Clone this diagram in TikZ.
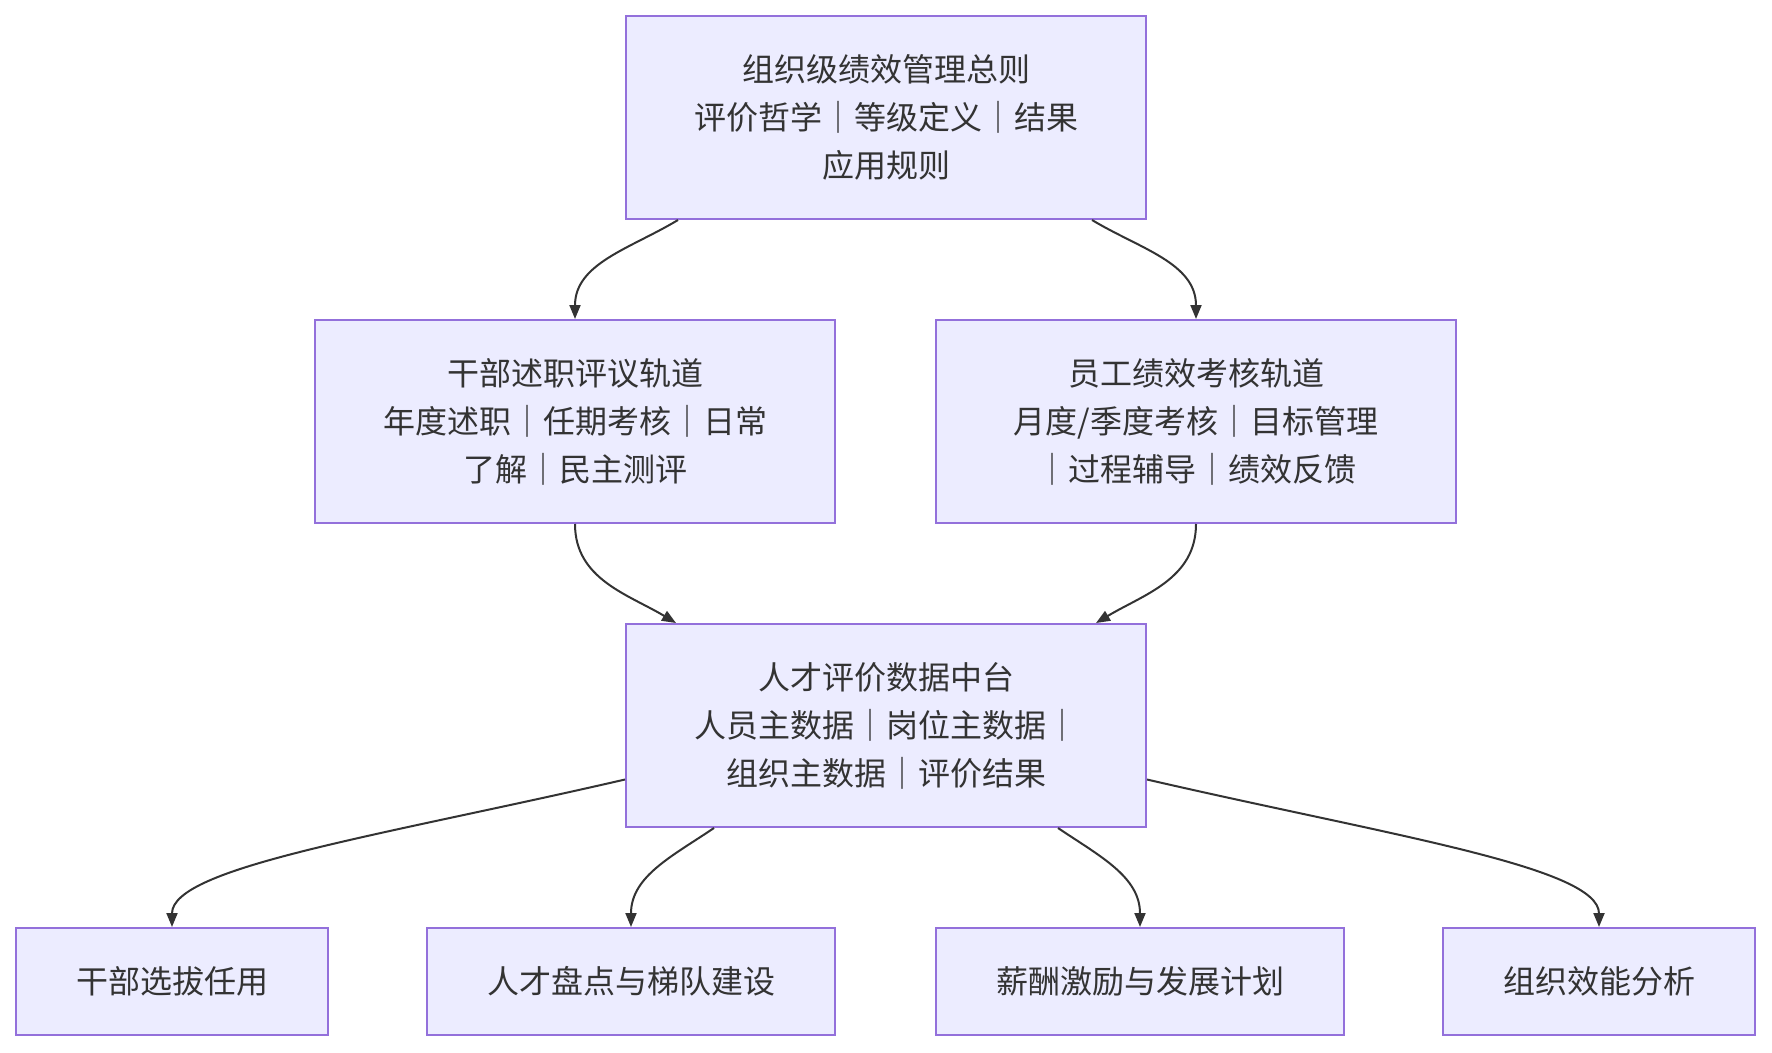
\documentclass[tikz,border=0pt]{standalone}
\usepackage{fontspec}
\newfontfamily\cjk{Noto Sans CJK SC}
\usetikzlibrary{arrows.meta,positioning}
\definecolor{boxfill}{HTML}{ECECFF}
\definecolor{boxline}{HTML}{9370DB}
\definecolor{inkgray}{HTML}{333333}

\begin{document}
\begin{tikzpicture}[
  x=1pt, y=1pt,
  node distance=99pt and 99pt,
  box/.style={draw=boxline,line width=2pt,fill=boxfill,align=center,text=inkgray,
    inner sep=0pt,minimum width=520pt,minimum height=203pt,font=\cjk\fontsize{32}{48}\selectfont},
  leaf/.style={box,minimum height=107pt},
  arr/.style={-{Triangle[length=14pt,width=11pt]},line width=2pt,draw=inkgray}
]
\useasboundingbox (0,0) rectangle (1772,-1052);

\node[box] (rules) at (886,-117.5) {组织级绩效管理总则\\评价哲学｜等级定义｜结果\\应用规则};
\node[box, below=of rules, xshift=-311pt] (cadre) {干部述职评议轨道\\年度述职｜任期考核｜日常\\了解｜民主测评};
\node[box, right=of cadre] (staff) {员工绩效考核轨道\\月度/季度考核｜目标管理\\｜过程辅导｜绩效反馈};
\node[box, below=of cadre, xshift=311pt] (datahub) {人才评价数据中台\\人员主数据｜岗位主数据｜\\组织主数据｜评价结果};
\node[leaf, minimum width=408pt, below=of datahub, xshift=-255pt] (talent) {人才盘点与梯队建设};
\node[leaf, minimum width=312pt, left=97pt of talent] (appoint) {干部选拔任用};
\node[leaf, minimum width=408pt, right=of talent] (reward) {薪酬激励与发展计划};
\node[leaf, minimum width=312pt, right=97pt of reward] (orgeff) {组织效能分析};

\draw[arr] ([xshift=-208pt]rules.south) to[out=-149,in=90] (cadre.north);
\draw[arr] ([xshift=206pt]rules.south) to[out=-31,in=90] (staff.north);
\draw[arr] (cadre.south) to[out=-90,in=149] ([xshift=-210pt]datahub.north);
\draw[arr] (staff.south) to[out=-90,in=31] ([xshift=210pt]datahub.north);
\draw[arr] ([yshift=-54pt]datahub.west) to[out=-167,in=90,out distance=250pt,in distance=60pt] (appoint.north);
\draw[arr] ([xshift=-172pt]datahub.south) to[out=-146,in=90] (talent.north);
\draw[arr] ([xshift=172pt]datahub.south) to[out=-34,in=90] (reward.north);
\draw[arr] ([yshift=-54pt]datahub.east) to[out=-13,in=90,out distance=250pt,in distance=60pt] (orgeff.north);
\end{tikzpicture}
\end{document}
